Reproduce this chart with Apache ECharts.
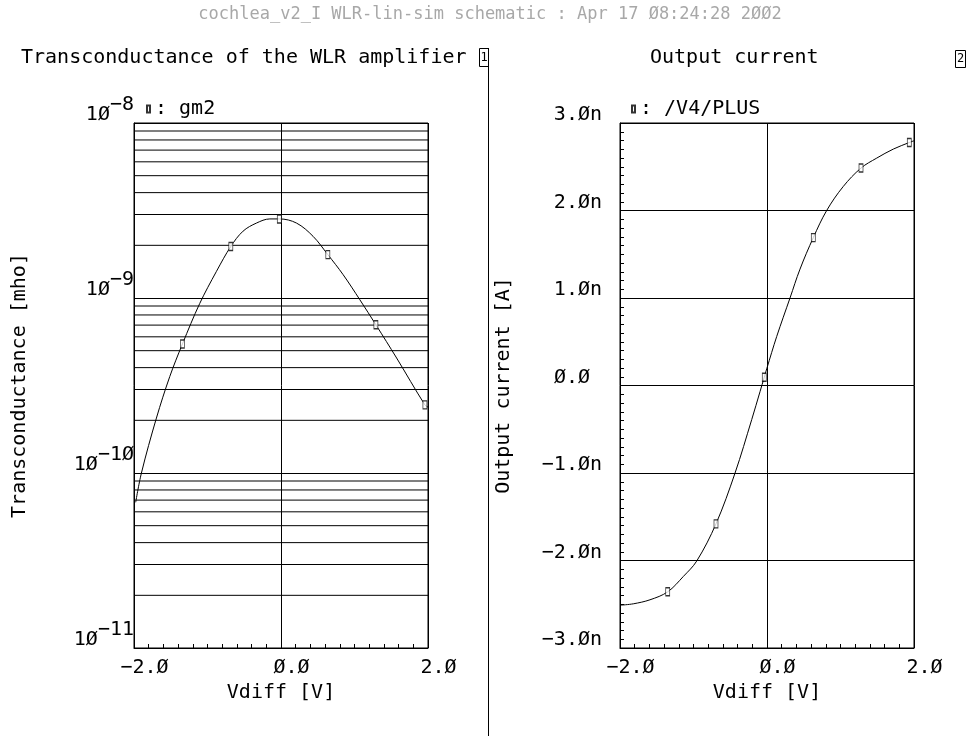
<!DOCTYPE html>
<html>
<head>
<meta charset="utf-8">
<script src="https://cdn.jsdelivr.net/npm/echarts@6/dist/echarts.min.js"></script>
<style>html,body{margin:0;padding:0;background:#fff}#c{width:980px;height:736px}</style>
</head>
<body>
<div id="c"></div>
<script>
// ---------- data ----------
const headerText = 'cochlea_v2_I WLR-lin-sim schematic : Apr 17 Ø8:24:28 2ØØ2';
const title1 = 'Transconductance of the WLR amplifier';
const title2 = 'Output current';
const xName = 'Vdiff [V]';
const yName1 = 'Transconductance [mho]';
const yName2 = 'Output current [A]';
const series1Name = 'gm2';
const series2Name = '/V4/PLUS';

// transconductance curve (Vdiff [V], gm [mho])
const gmV = [-1.977, -1.899, -1.695, -1.513, -1.341, -1.106, -0.878, -0.683, -0.516, -0.334, -0.152, -0.020, 0.211, 0.437, 0.637, 0.845, 1.073, 1.291, 1.573, 1.958, 2.0];
const gm  = [6.8e-11, 1.0e-10, 2.06e-10, 3.56e-10, 5.46e-10, 9.3e-10, 1.42e-9, 1.97e-9, 2.41e-9, 2.68e-9, 2.83e-9, 2.83e-9, 2.68e-9, 2.25e-9, 1.77e-9, 1.36e-9, 9.77e-10, 7.03e-10, 4.54e-10, 2.45e-10, 2.38e-10];
const gmMarkV = [-1.341, -0.683, -0.023, 0.637, 1.291, 1.958];
const gmMark  = [5.46e-10, 1.97e-9, 2.83e-9, 1.77e-9, 7.03e-10, 2.45e-10];

// output current curve (Vdiff [V], I [nA])
const ioV = [-1.986, -1.819, -1.592, -1.351, -1.139, -0.957, -0.694, -0.435, -0.208, -0.095, -0.037, -0.004, 0.132, 0.313, 0.449, 0.630, 0.812, 1.038, 1.279, 1.493, 1.719, 1.936, 2.0];
const io  = [-2.51, -2.495, -2.449, -2.358, -2.183, -2.007, -1.581, -1.001, -0.39, -0.07, 0.095, 0.19, 0.56, 1.0, 1.33, 1.69, 2.0, 2.275, 2.485, 2.599, 2.702, 2.777, 2.797];
const ioMarkV = [-1.351, -0.694, -0.037, 0.630, 1.279, 1.936];
const ioMark  = [-2.358, -1.581, 0.095, 1.69, 2.485, 2.777];

// axis ranges
const xMin = -2, xMax = 2, xStep = 2;
const gmMin = 1e-11, gmMax = 1e-8;
const ioMin = -3, ioMax = 3, ioStep = 1;
const minorMult = [2, 3, 4, 5, 6, 7, 8, 9];
const decades = [1e-11, 1e-10, 1e-9];

// ---------- helpers ----------
const FONT = 'DejaVu Sans Mono';
const zeroSlash = s => s.replace(/0/g, 'Ø').replace(/-/g, '−');
const fmtX = v => zeroSlash(v.toFixed(1));
const fmtI = v => v === 0 ? '{z|' + zeroSlash('0.0') + '}' : zeroSlash(v.toFixed(1)) + 'n';
const fmtLog = v => {
  const e = Math.round(Math.log10(v));
  return '{b|1Ø}{s|' + zeroSlash(String(e)) + '}';
};
const pairs = (xs, ys) => xs.map((x, i) => [x, ys[i]]);

const txt = { fontFamily: FONT, fontSize: 20, color: '#000', fontWeight: 'normal' };
const blackLine = { color: '#000', width: 1, type: 'solid' };

function xAxisFor(gi) {
  return {
    gridIndex: gi, type: 'value', min: xMin, max: xMax, interval: xStep,
    axisLine: { show: true, onZero: false, lineStyle: { color: '#000' } },
    axisTick: { show: true, inside: true, length: 4, lineStyle: { color: '#000' } },
    minorTick: { show: true, splitNumber: 10, length: 4, lineStyle: { color: '#000' } },
    splitLine: { show: true, lineStyle: blackLine },
    axisLabel: Object.assign({ formatter: fmtX, margin: 10, padding: [0, 0, 0, 21] }, txt),
    name: xName, nameLocation: 'middle', nameGap: 35, nameTextStyle: txt
  };
}

// log-decade minor gridlines of the left plot, drawn through the log axis
const minorGridSeries = [];
decades.forEach(d => minorMult.forEach(m => {
  minorGridSeries.push({
    type: 'line', xAxisIndex: 0, yAxisIndex: 0, silent: true, symbol: 'none', z: 1,
    data: [[xMin, d * m], [xMax, d * m]], lineStyle: blackLine, tooltip: { show: false }
  });
}));

const option = {
  animation: false,
  backgroundColor: '#fff',
  title: [
    { text: headerText, left: 'center', top: 6, padding: 0,
      textStyle: { fontFamily: FONT, fontSize: 17, fontWeight: 'normal', color: '#a8a8a8' } },
    { text: title1, left: 21, top: 48, padding: 0, textStyle: txt },
    { text: title2, left: 650, top: 48, padding: 0, textStyle: txt }
  ],
  grid: [
    { left: 134, top: 123, width: 294, height: 525, show: true, borderColor: '#000', borderWidth: 1, backgroundColor: 'transparent' },
    { left: 620, top: 123, width: 294, height: 525, show: true, borderColor: '#000', borderWidth: 1, backgroundColor: 'transparent' }
  ],
  xAxis: [xAxisFor(0), xAxisFor(1)],
  yAxis: [
    {
      gridIndex: 0, type: 'log', logBase: 10, min: gmMin, max: gmMax,
      axisLine: { show: true, onZero: false, lineStyle: { color: '#000' } },
      axisTick: { show: false },
      splitLine: { show: true, lineStyle: blackLine },
      axisLabel: {
        formatter: fmtLog, margin: 0, padding: [0, 0, 16, 0],
        rich: {
          b: { fontFamily: FONT, fontSize: 20, color: '#000' },
          s: { fontFamily: FONT, fontSize: 20, color: '#000', padding: [0, 0, 20, 0] }
        }
      },
      name: yName1, nameLocation: 'middle', nameGap: 104, nameTextStyle: txt
    },
    {
      gridIndex: 1, type: 'value', min: ioMin, max: ioMax, interval: ioStep,
      axisLine: { show: true, onZero: false, lineStyle: { color: '#000' } },
      axisTick: { show: true, inside: true, length: 4, lineStyle: { color: '#000' } },
      minorTick: { show: true, splitNumber: 10, length: 4, lineStyle: { color: '#000' } },
      splitLine: { show: true, lineStyle: blackLine },
      axisLabel: Object.assign({ formatter: fmtI, margin: 18, padding: [0, 0, 16, 0],
        rich: { z: { fontFamily: FONT, fontSize: 20, color: '#000', padding: [0, 12, 0, 0] } } }, txt),
      name: yName2, nameLocation: 'middle', nameGap: 106, nameTextStyle: txt
    }
  ],
  legend: [
    { data: [series1Name], left: 146, top: 99, padding: 0, icon: 'rect', itemWidth: 3, itemHeight: 7,
      formatter: ': {name}', textStyle: txt, selectedMode: false },
    { data: [series2Name], left: 631, top: 99, padding: 0, icon: 'rect', itemWidth: 3, itemHeight: 7,
      formatter: ': {name}', textStyle: txt, selectedMode: false }
  ],
  series: minorGridSeries.concat([
    {
      name: 'gm2-curve', type: 'line', xAxisIndex: 0, yAxisIndex: 0, z: 3,
      data: pairs(gmV, gm), showSymbol: false, symbol: 'none', smooth: 0.35,
      lineStyle: { color: '#000', width: 1 }, silent: true
    },
    {
      name: series1Name, type: 'scatter', xAxisIndex: 0, yAxisIndex: 0, z: 5,
      data: pairs(gmMarkV, gmMark), symbol: 'rect', symbolSize: [4, 8],
      itemStyle: { color: '#fff', borderColor: '#000', borderWidth: 1 }
    },
    {
      name: 'io-curve', type: 'line', xAxisIndex: 1, yAxisIndex: 1, z: 3,
      data: pairs(ioV, io), showSymbol: false, symbol: 'none', smooth: 0.35,
      lineStyle: { color: '#000', width: 1 }, silent: true
    },
    {
      name: series2Name, type: 'scatter', xAxisIndex: 1, yAxisIndex: 1, z: 5,
      data: pairs(ioMarkV, ioMark), symbol: 'rect', symbolSize: [4, 8],
      itemStyle: { color: '#fff', borderColor: '#000', borderWidth: 1 }
    }
  ]),
  graphic: [
    { type: 'line', shape: { x1: 488.5, y1: 48, x2: 488.5, y2: 736 }, style: { stroke: '#000', lineWidth: 1 }, silent: true },
    { type: 'rect', shape: { x: 479.5, y: 48.5, width: 9, height: 18 }, style: { fill: 'none', stroke: '#000', lineWidth: 1 }, silent: true },
    { type: 'text', style: { text: '1', x: 484, y: 57.5, align: 'center', verticalAlign: 'middle', font: '12px "DejaVu Sans Mono"', fill: '#000' }, silent: true },
    { type: 'rect', shape: { x: 955.5, y: 50.5, width: 10, height: 17 }, style: { fill: 'none', stroke: '#000', lineWidth: 1 }, silent: true },
    { type: 'text', style: { text: '2', x: 960.5, y: 59, align: 'center', verticalAlign: 'middle', font: '12px "DejaVu Sans Mono"', fill: '#000' }, silent: true }
  ]
};

const chart = echarts.init(document.getElementById('c'), null, { renderer: 'canvas' });
chart.setOption(option);
</script>
</body>
</html>
